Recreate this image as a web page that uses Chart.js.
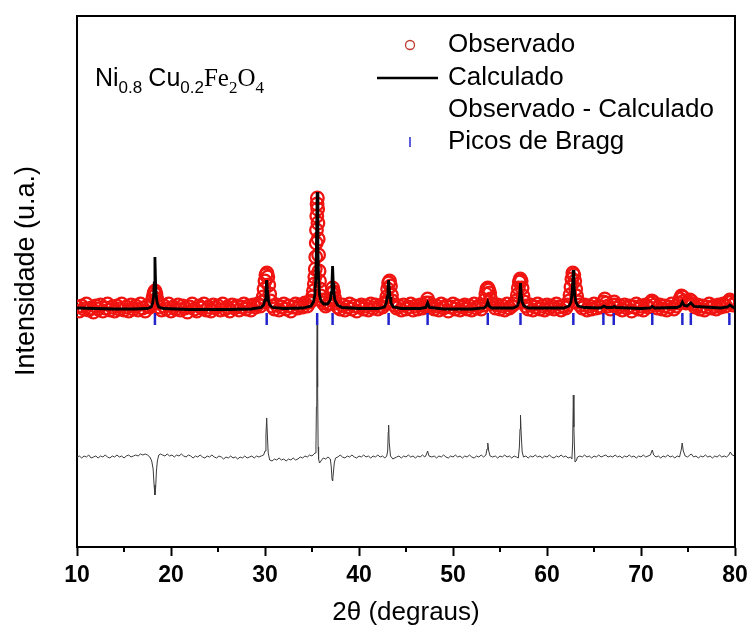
<!DOCTYPE html>
<html><head><meta charset="utf-8">
<script src="https://cdn.jsdelivr.net/npm/chart.js@4.4.1/dist/chart.umd.min.js"></script>
<style>html,body{margin:0;padding:0;background:#fff}canvas{display:block}</style>
</head><body>
<canvas id="c" width="748" height="634"></canvas>
<script>
// ---- data (2θ in degrees, intensity in arbitrary units) ----
const xMajorTicks = [10, 20, 30, 40, 50, 60, 70, 80];
const xMinorTicks = [15, 25, 35, 45, 55, 65, 75];

const observado = [
[10,240],[10.25,236],[10.5,241],[10.75,238],[11,243],[11.25,237],[11.5,239],[11.75,235],[12,241],[12.25,238],[12.5,242],[12.75,236],[13,239],[13.25,243],[13.5,237],[13.75,240],[14,236],[14.25,241],[14.5,238],[14.75,243],[15,237],[15.25,240],[15.5,236],[15.75,242],[16,238],[16.25,241],[16.5,237],[16.75,243],[17,239],[17.25,236],[17.5,241],[17.75,240],
[17.9,242],[18,246],[18.1,250],[18.2,254],[18.3,256],[18.4,253],[18.5,248],[18.6,244],[18.75,240],
[19,237],[19.25,241],[19.5,238],[19.75,243],[20,236],[20.25,240],[20.5,238],[20.75,242],[21,237],[21.25,241],[21.5,239],[21.75,235],[22,240],[22.25,243],[22.5,238],[22.75,236],[23,241],[23.25,239],[23.5,243],[23.75,237],[24,240],[24.25,236],[24.5,242],[24.75,239],[25,241],[25.25,237],[25.5,243],[25.75,238],[26,240],[26.25,236],[26.5,242],[26.75,239],[27,241],[27.25,237],[27.5,240],[27.75,243],[28,238],[28.25,241],[28.5,237],[28.75,242],[29,240],[29.25,243],[29.5,241],
[29.7,245],[29.8,250],[29.9,258],[30,266],[30.1,272],[30.2,274],[30.3,270],[30.4,262],[30.5,253],[30.6,246],[30.75,241],
[31,238],[31.25,242],[31.5,237],[31.75,240],[32,243],[32.25,238],[32.5,241],[32.75,236],[33,240],[33.25,243],[33.5,239],[33.75,242],[34,240],[34.25,244],[34.5,241],[34.75,245],
[34.9,246],[35.05,250],[35.15,256],[35.25,263],[35.3,270],[35.35,278],[35.4,290],[35.45,304],[35.48,317],[35.51,331],[35.54,343],[35.57,349],[35.6,338],[35.63,324],[35.66,308],[35.7,292],[35.75,276],[35.8,266],[35.85,258],[35.95,251],[36.05,247],[36.2,244],[36.45,241],[36.7,243],
[36.9,244],[37,248],[37.1,254],[37.2,259],[37.3,255],[37.4,249],[37.5,244],[37.75,240],
[38,238],[38.25,242],[38.5,237],[38.75,240],[39,243],[39.25,238],[39.5,241],[39.75,236],[40,240],[40.25,242],[40.5,238],[40.75,241],[41,237],[41.25,243],[41.5,239],[41.75,242],[42,238],[42.25,241],[42.5,240],[42.75,243],
[42.85,245],[42.95,250],[43.05,258],[43.15,264],[43.25,266],[43.35,261],[43.45,252],[43.55,246],[43.75,242],
[44,239],[44.25,241],[44.5,237],[44.75,242],[45,238],[45.25,240],[45.5,243],[45.75,237],[46,241],[46.25,238],[46.5,242],[46.75,239],[47,241],
[47.15,244],[47.3,248],[47.45,244],[47.6,240],
[47.75,242],[48,238],[48.25,241],[48.5,237],[48.75,243],[49,239],[49.25,241],[49.5,236],[49.75,240],[50,243],[50.25,238],[50.5,241],[50.75,237],[51,240],[51.25,242],[51.5,238],[51.75,241],[52,237],[52.25,243],[52.5,239],[52.75,241],[53,238],[53.25,242],
[53.4,247],[53.5,253],[53.6,258],[53.7,259],[53.8,257],[53.9,254],[54,248],[54.15,243],
[54.5,239],[54.75,242],[55,238],[55.25,241],[55.5,237],[55.75,243],[56,239],[56.25,241],[56.5,243],
[56.7,246],[56.85,252],[56.95,259],[57.05,265],[57.15,268],[57.25,266],[57.35,259],[57.45,251],[57.6,245],[57.75,241],
[58,238],[58.25,242],[58.5,237],[58.75,240],[59,243],[59.25,238],[59.5,241],[59.75,237],[60,242],[60.25,239],[60.5,241],[60.75,238],[61,243],[61.25,240],[61.5,237],[61.75,241],[62,239],[62.2,242],
[62.35,246],[62.45,252],[62.55,260],[62.65,268],[62.75,274],[62.85,272],[62.95,266],[63.05,258],[63.15,251],[63.3,245],[63.5,242],
[63.75,239],[64,242],[64.25,237],[64.5,241],[64.75,238],[65,243],[65.25,239],[65.5,241],[65.75,240],
[66,245],[66.15,248],[66.3,244],[66.5,241],[66.75,238],[67,242],[67.15,245],[67.3,242],[67.5,239],[67.75,241],
[68,237],[68.25,242],[68.5,239],[68.75,241],[69,236],[69.25,240],[69.5,243],[69.75,238],[70,241],[70.25,237],[70.5,242],[70.75,240],
[71,244],[71.15,246],[71.3,245],[71.45,242],[71.75,239],[72,242],[72.25,238],[72.5,241],[72.75,237],[73,240],[73.25,243],[73.5,238],[73.75,241],
[74,244],[74.15,248],[74.3,251],[74.45,250],[74.6,246],[74.8,244],[75,245],[75.2,247],[75.35,246],[75.5,243],
[75.75,240],[76,242],[76.25,238],[76.5,241],[76.75,237],[77,240],[77.25,243],[77.5,239],[77.75,241],[78,238],[78.25,242],[78.5,240],[78.75,243],[79,241],[79.25,245],[79.45,247],[79.6,245],[79.8,242],[80,244]
];

const calculado = [
[10,239],[12,238.5],[14,238],[16,238],[17.5,238.5],[17.9,240],[18.05,244],[18.15,251],[18.22,264],[18.29,290],[18.36,264],[18.43,251],[18.53,244],[18.7,240],[19.2,238.5],
[22,237.5],[26,237.5],[28.5,238],[29.6,239.5],[29.85,242],[30,247],[30.1,256],[30.18,267],[30.26,256],[30.36,247],[30.5,242],[30.8,239.5],
[32,238.5],[34,239],[34.9,241],[35.15,245],[35.3,252],[35.4,268],[35.47,300],[35.55,355],[35.63,300],[35.7,268],[35.8,252],[35.95,246],[36.25,243],[36.65,243],
[36.95,247],[37.05,254],[37.12,264],[37.19,281],[37.26,264],[37.33,254],[37.43,247],[37.7,242],[38.2,239.5],
[40,238.5],[42,238.5],[42.7,240],[42.9,244],[43,250],[43.08,258],[43.15,267],[43.22,258],[43.3,250],[43.4,244],[43.65,240],[44.5,238.5],
[46.5,238.5],[47.1,239.5],[47.3,244],[47.5,239.5],[49,238],[52,238],[53.3,239],[53.55,241],[53.7,245],[53.85,241],[54.1,239],
[56.4,239],[56.85,241],[57,245],[57.1,252],[57.18,264],[57.26,252],[57.36,245],[57.55,241],[58,239],
[61.8,239],[62.35,241],[62.55,245],[62.65,252],[62.73,263],[62.8,277],[62.87,263],[62.95,252],[63.07,245],[63.3,241],[64,239.5],
[65.7,239],[66.05,241],[66.35,239.5],[67,239.5],[67.15,240.5],[67.35,239.5],[70,238.5],[71,239],[71.2,240.5],[71.45,239],
[73.8,239.5],[74.2,241],[74.4,245],[74.6,241.5],[74.9,241],[75.3,244],[75.65,240.5],[78.5,239],[79.2,240],[79.45,242],[79.75,240],[80,239]
];

const diferenca = [
[10,90],[10.25,91],[10.5,89],[10.75,91],[11,90],[11.25,92],[11.5,89],[11.75,90],[12,91],[12.25,89],[12.5,91],[12.75,90],[13,92],[13.25,90],[13.5,89],[13.75,91],[14,90],[14.25,92],[14.5,90],[14.75,91],[15,89],[15.25,91],[15.5,92],[15.75,90],[16,91],[16.25,92],[16.5,91],[16.75,93],[17,92],[17.25,93],[17.5,92],[17.75,90],
[17.95,86],[18.1,78],[18.2,62],[18.29,52],[18.37,60],[18.45,76],[18.55,86],[18.7,92],[18.9,93],
[19.1,92],[19.35,91],[19.6,93],[19.85,91],[20.1,92],[20.35,90],[20.6,92],[20.85,91],[21.1,93],[21.35,91],[21.6,90],[21.85,92],[22.1,91],[22.35,89],[22.6,91],[22.85,90],[23.1,92],[23.35,90],[23.6,89],[23.85,91],[24.1,90],[24.35,92],[24.6,90],[24.85,89],[25.1,91],[25.35,90],[25.6,88],[25.85,90],[26.1,89],[26.35,91],[26.6,89],[26.85,90],[27.1,88],[27.35,90],[27.6,89],[27.85,91],[28.1,89],[28.35,90],[28.6,91],[28.85,89],[29.1,91],[29.35,90],[29.6,91],[29.85,92],
[30,96],[30.1,112],[30.18,129],[30.26,110],[30.34,94],[30.5,87],[30.75,86],[31,88],[31.25,87],[31.5,89],[31.75,87],[32,88],[32.25,86],[32.5,88],[32.75,87],[33,89],[33.25,87],[33.5,88],[33.75,90],[34,89],[34.25,91],[34.5,90],[34.75,92],[35,91],[35.2,93],[35.32,94],
[35.42,100],[35.47,140],[35.51,185],[35.55,222],[35.6,160],[35.65,100],[35.7,88],[35.8,84],[35.95,86],[36.2,89],[36.45,88],[36.7,90],
[36.95,88],[37.05,80],[37.13,68],[37.19,66],[37.27,74],[37.37,84],[37.5,89],[37.75,90],
[38,92],[38.25,90],[38.5,89],[38.75,91],[39,90],[39.25,92],[39.5,90],[39.75,89],[40,91],[40.25,90],[40.5,92],[40.75,90],[41,91],[41.25,89],[41.5,91],[41.75,90],[42,92],[42.25,90],[42.5,91],[42.75,89],[42.95,91],
[43.05,96],[43.11,115],[43.15,122],[43.22,104],[43.35,91],[43.6,88],
[44,90],[44.25,91],[44.5,89],[44.75,91],[45,90],[45.25,92],[45.5,90],[45.75,91],[46,89],[46.25,91],[46.5,90],[46.75,92],[47,90],[47.15,92],[47.3,96],[47.45,91],
[47.75,90],[48,91],[48.25,89],[48.5,91],[48.75,90],[49,92],[49.25,90],[49.5,89],[49.75,91],[50,90],[50.25,92],[50.5,90],[50.75,91],[51,89],[51.25,91],[51.5,90],[51.75,92],[52,90],[52.25,89],[52.5,91],[52.75,90],[53,92],[53.25,90],
[53.5,92],[53.62,98],[53.7,104],[53.8,96],[53.95,91],[54.2,90],
[54.5,91],[54.75,89],[55,91],[55.25,90],[55.5,92],[55.75,90],[56,91],[56.25,89],[56.5,91],[56.75,90],[56.95,89],
[57.06,100],[57.13,118],[57.18,132],[57.25,114],[57.36,95],[57.5,90],
[57.75,91],[58,89],[58.25,91],[58.5,90],[58.75,92],[59,90],[59.25,91],[59.5,89],[59.75,91],[60,90],[60.25,92],[60.5,90],[60.75,89],[61,91],[61.25,90],[61.5,92],[61.75,90],[62,91],[62.25,89],[62.5,90],
[62.65,88],[62.73,104],[62.8,152],[62.86,120],[62.92,100],[62.98,85],[63.1,86],[63.25,90],
[63.5,91],[63.75,90],[64,92],[64.25,90],[64.5,91],[64.75,89],[65,91],[65.25,90],[65.5,92],[65.75,90],[66,91],[66.25,92],[66.5,90],[66.75,91],[67,90],[67.25,92],[67.5,90],[67.75,91],[68,89],[68.25,91],[68.5,90],[68.75,92],[69,90],[69.25,91],[69.5,89],[69.75,91],[70,90],[70.25,92],[70.5,90],[70.75,91],
[71,92],[71.2,97],[71.35,92],[71.6,90],[71.85,91],[72.1,89],[72.35,91],[72.6,90],[72.85,92],[73.1,90],[73.35,91],[73.6,89],[73.85,91],[74.1,90],
[74.3,98],[74.38,104],[74.5,96],[74.7,91],[74.95,90],[75.2,92],[75.35,93],[75.6,90],
[75.85,91],[76.1,89],[76.35,91],[76.6,90],[76.85,92],[77.1,90],[77.35,91],[77.6,89],[77.85,91],[78.1,90],[78.35,92],[78.6,90],[78.85,91],[79.1,90],[79.35,92],[79.5,95],[79.7,92],[80,91]
];

const picosBragg = [18.29, 30.18, 35.55, 37.19, 43.15, 47.3, 53.7, 57.18, 62.8, 66.0, 67.1, 71.2, 74.4, 75.3, 79.4];
const braggLevel = 228;

const seriesLabels = ['Observado', 'Calculado', 'Observado - Calculado', 'Picos de Bragg'];
const yTitle = 'Intensidade (u.a.)';
const xTitle = '2θ (degraus)';

const SANS = "'Liberation Sans', Arial, Helvetica, sans-serif";
const SERIF = "'Liberation Serif', 'Times New Roman', serif";

const decorPlugin = {
  id: 'decor',
  afterDraw(chart) {
    const ctx = chart.ctx, a = chart.chartArea, xs = chart.scales.x;
    ctx.save();
    ctx.strokeStyle = '#000'; ctx.lineWidth = 2;
    ctx.beginPath();
    ctx.moveTo(a.left, a.top); ctx.lineTo(a.right, a.top); ctx.lineTo(a.right, a.bottom);
    ctx.stroke();
    xMinorTicks.forEach(v => {
      const px = Math.round(xs.getPixelForValue(v));
      ctx.beginPath(); ctx.moveTo(px, a.bottom); ctx.lineTo(px, a.bottom + 5); ctx.stroke();
    });
    ctx.save();
    ctx.translate(27, 271); ctx.rotate(-Math.PI / 2);
    ctx.font = '27px ' + SANS; ctx.fillStyle = '#000'; ctx.textAlign = 'center'; ctx.textBaseline = 'middle';
    ctx.fillText(yTitle, 0, 0);
    ctx.restore();
    const ds = chart.data.datasets;
    const lx = 448, rows = [45, 78, 110, 142];
    ctx.font = '26px ' + SANS; ctx.fillStyle = '#000'; ctx.textBaseline = 'middle'; ctx.textAlign = 'left';
    ds.forEach((d, i) => ctx.fillText(d.label, lx, rows[i]));
    ctx.strokeStyle = '#c0392b'; ctx.lineWidth = 1.3;
    ctx.beginPath(); ctx.arc(410, rows[0], 4.5, 0, Math.PI * 2); ctx.stroke();
    ctx.strokeStyle = '#000'; ctx.lineWidth = 2.5;
    ctx.beginPath(); ctx.moveTo(377, rows[1]); ctx.lineTo(438, rows[1]); ctx.stroke();
    ctx.strokeStyle = '#2a2ad0'; ctx.lineWidth = 1.5;
    ctx.beginPath(); ctx.moveTo(410, rows[3] - 5); ctx.lineTo(410, rows[3] + 5); ctx.stroke();
    const parts = [
      ['Ni', SANS, 25, 0], ['0.8', SANS, 17, 7], [' ', SANS, 22, 0],
      ['Cu', SANS, 25, 0], ['0.2', SANS, 17, 7],
      ['Fe', SERIF, 25, 0], ['2', SERIF, 17, 7],
      ['O', SERIF, 25, 0], ['4', SERIF, 17, 7]
    ];
    let fx = 95; const fy = 86;
    ctx.textBaseline = 'alphabetic'; ctx.fillStyle = '#000';
    parts.forEach(p => {
      ctx.font = p[2] + 'px ' + p[1];
      ctx.fillText(p[0], fx, fy + p[3]);
      fx += ctx.measureText(p[0]).width;
    });
    ctx.restore();
  }
};

new Chart(document.getElementById('c'), {
  type: 'scatter',
  data: {
    datasets: [
      { label: seriesLabels[0], data: observado, showLine: false, pointStyle: 'circle', pointRadius: 6.3,
        pointBorderColor: 'rgb(240,20,16)', pointBackgroundColor: 'rgba(0,0,0,0)', pointBorderWidth: 2.3, order: 4 },
      { label: seriesLabels[1], data: calculado, showLine: true, pointRadius: 0, borderColor: '#000',
        borderWidth: 2.8, tension: 0, order: 2 },
      { label: seriesLabels[2], data: diferenca, showLine: true, pointRadius: 0, borderColor: '#3a3a3a',
        borderWidth: 1, tension: 0, order: 3 },
      { label: seriesLabels[3], data: picosBragg.map(v => [v, braggLevel]), showLine: false, pointStyle: 'line',
        rotation: 90, pointRadius: 6, pointBorderColor: '#2424cc', pointBorderWidth: 2.5, order: 1 }
    ]
  },
  options: {
    responsive: false, animation: false, devicePixelRatio: 1,
    layout: { padding: { top: 16, right: 13, left: 0, bottom: 0 } },
    plugins: { legend: { display: false }, tooltip: { enabled: false } },
    scales: {
      x: {
        type: 'linear', min: 10, max: 80,
        afterBuildTicks: s => { s.ticks = xMajorTicks.map(v => ({ value: v })); },
        afterFit: s => { s.height = 87; s.paddingLeft = 0; s.paddingRight = 0; },
        ticks: { color: '#000', padding: 6, maxRotation: 0, font: { family: SANS, size: 23, weight: 'bold' } },
        grid: { display: true, drawOnChartArea: false, drawTicks: true, tickLength: 9, tickWidth: 2, tickColor: '#000', color: '#000' },
        border: { display: true, color: '#000', width: 2 },
        title: { display: true, text: xTitle, color: '#000', font: { family: SANS, size: 26 }, padding: { top: 0, bottom: 6 } }
      },
      y: {
        type: 'linear', min: 0, max: 531,
        afterFit: s => { s.width = 77; },
        ticks: { display: false },
        grid: { display: false, drawTicks: false },
        border: { display: true, color: '#000', width: 2 },
        title: { display: false }
      }
    }
  },
  plugins: [decorPlugin]
});
</script>
</body></html>
